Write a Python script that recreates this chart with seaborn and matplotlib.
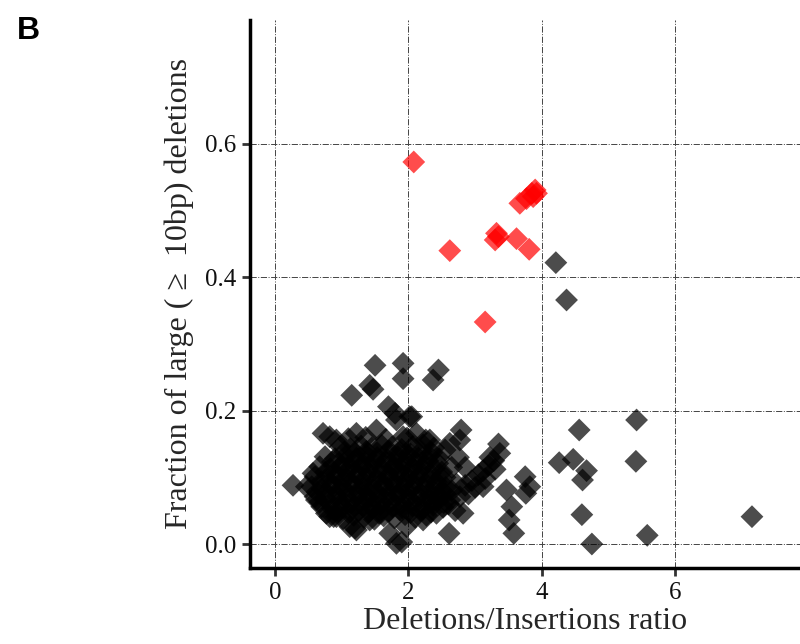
import pandas as pd
import seaborn as sns
import matplotlib.pyplot as plt

# black points: outliers and edge of the main cluster
x_black = [4.21, 4.37, 5.42, 4.56, 5.41, 4.26, 4.47, 4.67, 4.61, 4.60, 4.75, 5.58, 7.15,
           3.75, 3.76, 3.55, 3.51, 3.58, 3.47, 3.35, 3.37, 3.82,
           2.79, 2.77, 2.82, 2.61,
           1.50, 1.92, 2.45, 2.37, 1.42, 1.92, 1.15, 1.70, 1.80, 2.05, 1.47,
           0.72, 0.82, 0.27, 1.20, 1.12, 1.82, 1.90, 0.92, 0.77,
           2.45, 2.55, 2.65, 2.72, 2.85, 2.95, 3.05, 3.12, 3.20, 3.28, 3.15, 2.90, 3.00, 3.30, 3.22,
           2.60, 2.70, 2.55, 2.65, 2.75, 2.85,
           0.47, 0.57, 0.62, 0.82, 1.22, 1.42, 1.72, 1.97, 2.22, 2.42, 2.77, 3.12, 2.62, 2.32,
           2.12, 1.92, 1.52, 1.22, 0.92, 1.82, 2.02]
y_black = [0.422, 0.366, 0.186, 0.171, 0.124, 0.122, 0.127, 0.110, 0.096, 0.044, 0.000, 0.013, 0.041,
           0.101, 0.076, 0.056, 0.036, 0.016, 0.081, 0.150, 0.136, 0.086,
           0.171, 0.156, 0.046, 0.016,
           0.268, 0.271, 0.261, 0.246, 0.238, 0.248, 0.223, 0.206, 0.196, 0.191, 0.232,
           0.166, 0.161, 0.088, 0.024, 0.026, 0.001, 0.003, 0.041, 0.046,
           0.070, 0.075, 0.080, 0.090, 0.088, 0.095, 0.104, 0.110, 0.118, 0.125, 0.098, 0.075, 0.085, 0.112, 0.130,
           0.060, 0.050, 0.100, 0.115, 0.130, 0.115,
           0.086, 0.106, 0.066, 0.041, 0.021, 0.036, 0.016, 0.026, 0.036, 0.046, 0.071, 0.086, 0.151, 0.156,
           0.166, 0.161, 0.171, 0.166, 0.156, 0.186, 0.191]

# black points: dense core of the cluster
x_core = [0.88, 1.02, 1.18, 1.33, 1.49, 1.63, 1.79, 1.95, 2.10, 2.27,
          0.70, 0.86, 1.00, 1.16, 1.31, 1.45, 1.60, 1.76, 1.91, 2.06, 2.22, 2.37, 2.52,
          0.60, 0.76, 0.93, 1.08, 1.24, 1.39, 1.55, 1.69, 1.84, 2.00, 2.15, 2.31, 2.47, 2.62,
          0.55, 0.70, 0.85, 1.01, 1.17, 1.32, 1.47, 1.62, 1.78, 1.93, 2.08, 2.24, 2.40, 2.56,
          0.60, 0.77, 0.92, 1.07, 1.23, 1.38, 1.53, 1.69, 1.85, 2.00, 2.16, 2.32, 2.48,
          0.67, 0.83, 0.99, 1.14, 1.30, 1.46, 1.61, 1.77, 1.92, 2.07, 2.23, 2.39,
          0.75, 0.90, 1.06, 1.22, 1.37, 1.53, 1.68, 1.84, 1.99, 2.15, 2.31, 2.46,
          0.98, 1.13, 1.29, 1.45, 1.60, 1.75, 1.90, 2.06, 2.22, 2.38, 2.55,
          1.10, 1.36, 1.66, 1.98, 2.26]
y_core = [0.041, 0.038, 0.043, 0.040, 0.037, 0.042, 0.039, 0.044, 0.040, 0.043,
          0.056, 0.053, 0.057, 0.054, 0.058, 0.055, 0.052, 0.056, 0.054, 0.057, 0.053, 0.058, 0.055,
          0.071, 0.068, 0.072, 0.069, 0.073, 0.070, 0.067, 0.071, 0.074, 0.069, 0.072, 0.068, 0.071, 0.066,
          0.086, 0.083, 0.087, 0.084, 0.088, 0.085, 0.082, 0.086, 0.089, 0.084, 0.087, 0.083, 0.086, 0.085,
          0.101, 0.098, 0.102, 0.099, 0.103, 0.100, 0.097, 0.101, 0.104, 0.099, 0.102, 0.098, 0.100,
          0.116, 0.113, 0.117, 0.114, 0.118, 0.115, 0.112, 0.116, 0.119, 0.114, 0.117, 0.113,
          0.131, 0.128, 0.132, 0.129, 0.133, 0.130, 0.127, 0.131, 0.134, 0.129, 0.132, 0.128,
          0.146, 0.143, 0.147, 0.144, 0.148, 0.145, 0.142, 0.146, 0.149, 0.144, 0.141,
          0.158, 0.160, 0.157, 0.159, 0.156]

# black points: second, offset layer of the core
x_core2 = [0.95, 1.10, 1.26, 1.41, 1.56, 1.71, 1.87, 2.03, 2.18, 2.34,
           0.67, 0.82, 0.97, 1.13, 1.28, 1.43, 1.58, 1.74, 1.89, 2.04, 2.20, 2.36, 2.53,
           0.63, 0.78, 0.94, 1.09, 1.25, 1.40, 1.56, 1.72, 1.87, 2.02, 2.18, 2.33, 2.49,
           0.69, 0.85, 1.00, 1.15, 1.31, 1.47, 1.63, 1.78, 1.94, 2.10, 2.26, 2.42,
           0.76, 0.91, 1.07, 1.22, 1.38, 1.54, 1.70, 1.86, 2.01, 2.17, 2.33, 2.50,
           0.86, 1.03, 1.19, 1.35, 1.51, 1.67, 1.82, 1.97, 2.13, 2.29, 2.44,
           1.04, 1.21, 1.37, 1.53, 1.71, 1.87, 2.03, 2.19, 2.35]
y_core2 = [0.049, 0.047, 0.050, 0.048, 0.046, 0.049, 0.051, 0.047, 0.050, 0.048,
           0.063, 0.061, 0.064, 0.062, 0.065, 0.063, 0.060, 0.064, 0.062, 0.065, 0.061, 0.063, 0.062,
           0.078, 0.076, 0.079, 0.077, 0.080, 0.078, 0.075, 0.079, 0.077, 0.080, 0.076, 0.078, 0.079,
           0.093, 0.091, 0.094, 0.092, 0.095, 0.093, 0.090, 0.094, 0.092, 0.095, 0.091, 0.093,
           0.108, 0.106, 0.109, 0.107, 0.110, 0.108, 0.105, 0.109, 0.107, 0.110, 0.106, 0.108,
           0.123, 0.121, 0.124, 0.122, 0.125, 0.123, 0.120, 0.124, 0.122, 0.125, 0.121,
           0.138, 0.136, 0.139, 0.137, 0.140, 0.138, 0.135, 0.139, 0.137]

# red points (high fraction of large deletions)
x_red = [2.08, 2.62, 3.15, 3.32, 3.30, 3.35, 3.62, 3.81, 3.67, 3.77, 3.85, 3.90, 3.92, 3.87]
y_red = [0.573, 0.440, 0.333, 0.466, 0.456, 0.461, 0.458, 0.442, 0.511, 0.518, 0.526, 0.531, 0.526, 0.521]

n_black = len(x_black) + len(x_core) + len(x_core2)
df = pd.DataFrame({
    'ratio': x_black + x_core + x_core2 + x_red,
    'frac': y_black + y_core + y_core2 + y_red,
    'group': ['other'] * n_black + ['large'] * len(x_red),
})

sns.set_style('white')
plt.rcParams['font.family'] = ['Liberation Serif', 'DejaVu Serif']

fig = plt.figure(figsize=(8, 6.44), dpi=100)
ax = fig.add_axes([0.3125, 0.118, 0.6875, 0.851])

sns.scatterplot(x='ratio', y='frac', hue='group', data=df, ax=ax,
                palette={'other': 'black', 'large': 'red'},
                marker='D', s=135, linewidth=0, alpha=0.7, legend=False)

ax.set_xlim(-0.375, 7.87)
ax.set_ylim(-0.036, 0.786)
ax.set_xticks([0, 2, 4, 6])
ax.set_yticks([0.0, 0.2, 0.4, 0.6])
ax.set_yticklabels(['0.0', '0.2', '0.4', '0.6'])

ax.set_axisbelow(True)
ax.grid(True, linestyle='-.', color='#444444', linewidth=0.7)

for side in ['top', 'right']:
    ax.spines[side].set_visible(False)
for side in ['left', 'bottom']:
    ax.spines[side].set_linewidth(2.5)
    ax.spines[side].set_color('black')

ax.tick_params(axis='both', direction='out', length=6, width=2, color='#333333', pad=4,
               labelsize=18, labelcolor='#111111', bottom=True, left=True)

ax.set_xlabel('Deletions/Insertions ratio', fontsize=23, labelpad=2)
ax.set_ylabel('Fraction of large ( \u2265  10bp) deletions', fontsize=23, labelpad=8)

fig.text(0.035, 0.952, 'B', fontsize=23, fontweight='bold', family='Liberation Sans',
         color='black', ha='center', va='center')

fig.savefig('out.png', dpi=100)
